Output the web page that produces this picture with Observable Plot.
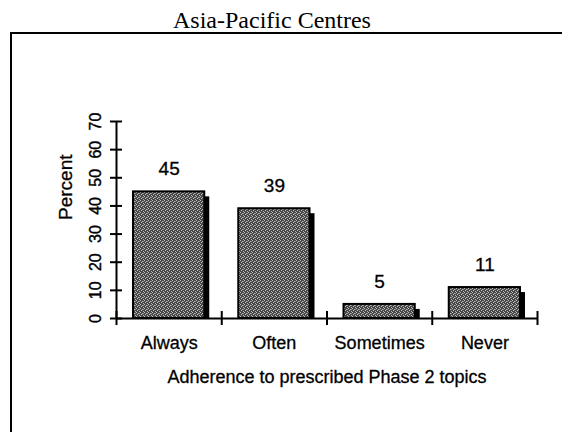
<!DOCTYPE html>
<html>
<head>
<meta charset="utf-8">
<script src="https://cdn.jsdelivr.net/npm/d3@7"></script>
<script src="https://cdn.jsdelivr.net/npm/@observablehq/plot@0.6"></script>
<style>
  html, body { margin: 0; padding: 0; background: #fff; }
  #wrap { position: relative; width: 562px; height: 432px; overflow: hidden; }
  #title { position: absolute; left: 0; top: 8px; width: 544px; text-align: center;
           font-family: "Liberation Serif", "Times New Roman", serif; font-size: 24px; line-height: 24px; color: #000; }
  #frame { position: absolute; left: 10px; top: 32px; width: 600px; height: 500px;
           border-top: 2px solid #000; border-left: 2px solid #000; }
  #chart { position: absolute; left: 0; top: 0; }
</style>
</head>
<body>
<div id="wrap">
  <div id="frame"></div>
  <div id="title">Asia-Pacific Centres</div>
  <div id="chart"></div>
</div>
<script>
const categories = ["Always", "Often", "Sometimes", "Never"];
const percents = [45, 39, 5, 11];
const yTicks = [0, 10, 20, 30, 40, 50, 60, 70];
const yTickLabels = ["0", "10", "20", "30", "40", "50", "60", "70"];
const xBoundaries = [0, 1, 2, 3, 4];
const yLabel = "Percent";
const xLabel = "Adherence to prescribed Phase 2 topics";

const rows = categories.map((c, i) => ({cat: c, val: percents[i], i}));
const tickRows = yTicks.map((v, i) => ({v, label: yTickLabels[i]}));

const plot = Plot.plot({
  width: 562,
  height: 432,
  marginLeft: 116,
  marginRight: 25,
  marginTop: 121,
  marginBottom: 114,
  style: {background: "transparent", fontFamily: "Liberation Sans, Arial, sans-serif", color: "#000"},
  x: {type: "linear", domain: [0, 4], axis: null},
  y: {domain: [0, 70], axis: null},
  marks: [
    // shadow
    Plot.rectY(rows, {x1: d => d.i, x2: d => d.i + 1, y1: 0, y2: "val", fill: "#000",
      insetLeft: 22, insetRight: 12, insetTop: 5}),
    // main bar
    Plot.rectY(rows, {x1: d => d.i, x2: d => d.i + 1, y1: 0, y2: "val", fill: "url(#stip)",
      stroke: "#000", strokeWidth: 2, insetLeft: 17, insetRight: 17}),
    // value labels
    Plot.text(rows, {x: d => d.i + 0.5, y: "val", text: d => String(d.val), dy: -23, fontSize: 19, fill: "#000", stroke: "#000", strokeWidth: 0.3}),
    // axes lines
    Plot.ruleX([0], {y1: 0, y2: 70, stroke: "#000", strokeWidth: 2}),
    Plot.ruleY([0], {x1: 0, x2: 4, stroke: "#000", strokeWidth: 2}),
    // y crossing ticks
    Plot.axisY({ticks: yTicks, tickSize: 12, dx: 6, fill: "none", stroke: "#000", strokeWidth: 2, label: null}),
    // y tick labels (rotated)
    Plot.text(tickRows, {y: "v", x: 0, text: "label", rotate: -90, dx: -21, fontSize: 16, fill: "#000", stroke: "#000", strokeWidth: 0.4}),
    // x crossing ticks
    Plot.axisX({ticks: xBoundaries, tickSize: 14, dy: -7, fill: "none", stroke: "#000", strokeWidth: 2, label: null}),
    // category labels
    Plot.text(rows, {x: d => d.i + 0.5, frameAnchor: "bottom", text: "cat", dy: 30, fontSize: 18, fill: "#000", stroke: "#000", strokeWidth: 0.3}),
    // axis titles
    Plot.text([yLabel], {frameAnchor: "left", text: d => d, rotate: -90, dx: -51, fontSize: 19, fill: "#000", stroke: "#000", strokeWidth: 0.3}),
    Plot.text([xLabel], {frameAnchor: "bottom", text: d => d, dy: 64, fontSize: 18, fill: "#000", stroke: "#000", strokeWidth: 0.3})
  ]
});

// stipple pattern for bar fill
const ns = "http://www.w3.org/2000/svg";
const defs = document.createElementNS(ns, "defs");
defs.innerHTML = `<pattern id="stip" patternUnits="userSpaceOnUse" width="4" height="4">
  <rect width="4" height="4" fill="#474747"/>
  <rect x="0" y="0" width="1" height="1" fill="#c4c4c4"/>
  <rect x="2" y="1" width="1" height="1" fill="#b8b8b8"/>
  <rect x="1" y="2" width="1" height="1" fill="#c8c8c8"/>
  <rect x="3" y="3" width="1" height="1" fill="#b4b4b4"/>
  <rect x="3" y="1" width="1" height="1" fill="#8a8a8a"/>
</pattern>`;
plot.insertBefore(defs, plot.firstChild);
document.getElementById("chart").appendChild(plot);
</script>
</body>
</html>
